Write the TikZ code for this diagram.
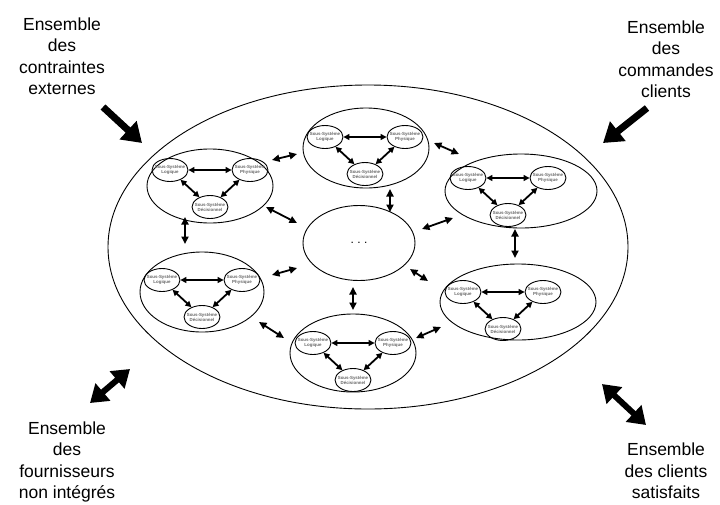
\documentclass[tikz,border=0pt]{standalone}
\usepackage{fontspec}
\setmainfont{Liberation Sans}
\usetikzlibrary{shapes.geometric,arrows.meta}

% one subsystem group: outer ellipse with the three sub-systems inside
% #1 name, #2 outer centre, #3 outer width, #4 outer height, #5 origin of the inner layout
\newcommand\sousgroupe[5]{%
  \node[grp, minimum width=#3, minimum height=#4] (#1) at (#2) {};
  \begin{scope}[shift={(#5)}]
    \node[ss] (#1L) at (-40,-12) {\makebox[0pt]{Sous-Système}\\\makebox[0pt]{Logique}};
    \node[ss] (#1P) at (40,-12) {\makebox[0pt]{Sous-Système}\\\makebox[0pt]{Physique}};
    \node[ss] (#1D) at (0,25) {\makebox[0pt]{Sous-Système}\\\makebox[0pt]{Décisionnel}};
  \end{scope}
  \draw[inarr] (#1L) -- (#1P);
  \draw[inarr] (#1L) -- (#1D);
  \draw[inarr] (#1P) -- (#1D);
}

\begin{document}
\begin{tikzpicture}[x=1pt, y=-1pt,
  grp/.style={ellipse, draw, line width=0.9pt, inner sep=0pt},
  ss/.style={ellipse, draw, line width=0.9pt, minimum width=36pt, minimum height=23pt,
    inner sep=0pt, align=center, font=\fontsize{4.4}{5}\selectfont\bfseries, text=black!60},
  inarr/.style={{Triangle[length=6pt,width=6pt]}-{Triangle[length=6pt,width=6pt]}, line width=1.8pt},
  link/.style={{Triangle[length=7.5pt,width=7pt]}-{Triangle[length=7.5pt,width=7pt]}, line width=1.8pt},
  bigarr/.style={-{Triangle[length=19pt,width=24pt]}, line width=7pt},
  bigdbl/.style={{Triangle[length=17pt,width=22pt]}-{Triangle[length=17pt,width=22pt]}, line width=6pt},
  lbl/.style={align=center, font=\fontsize{17.5}{21.5}\selectfont}]

\useasboundingbox[fill=white] (0,0) rectangle (720,504);

% the enterprise as a whole
\node[ellipse, draw, line width=0.9pt, minimum width=520pt, minimum height=324pt, inner sep=0pt] (sys) at (368,247) {};

% central group
\node[ellipse, draw, line width=0.9pt, minimum width=112pt, minimum height=75pt, inner sep=0pt,
  font=\fontsize{12}{12}\selectfont] (mid) at (359,243) {.\hspace{3.4pt}.\hspace{3.4pt}.};

% subsystem groups
\sousgroupe{g1}{210,186}{126pt}{74pt}{210,182}
\sousgroupe{g2}{366,148}{126pt}{80pt}{365,149}
\sousgroupe{g3}{521,191}{152pt}{74pt}{508,190}
\sousgroupe{g4}{202,292}{124pt}{80pt}{202,292}
\sousgroupe{g5}{518,302}{156pt}{76pt}{503,304}
\sousgroupe{g6}{353,353}{126pt}{78pt}{353,355}

% exchanges between groups
\coordinate (a1s) at (272,160); \coordinate (a1e) at (297,154);
\coordinate (a2s) at (434,143); \coordinate (a2e) at (459,154);
\coordinate (a3s) at (390,189); \coordinate (a3e) at (390,212);
\coordinate (a4s) at (266,207); \coordinate (a4e) at (297,223);
\coordinate (a5s) at (422,229); \coordinate (a5e) at (453,218);
\coordinate (a6s) at (272,275); \coordinate (a6e) at (297,268);
\coordinate (a7s) at (410,269); \coordinate (a7e) at (428,281);
\coordinate (a8s) at (353,287); \coordinate (a8e) at (353,310);
\coordinate (a9s) at (259,322); \coordinate (a9e) at (284,338);
\coordinate (a10s) at (416,338); \coordinate (a10e) at (441,327);
\coordinate (a11s) at (185,217); \coordinate (a11e) at (185,244);
\coordinate (a12s) at (515,229); \coordinate (a12e) at (515,258);
\foreach \k in {1,...,12} \draw[link] (a\k s) -- (a\k e);

% environment labels
\node[lbl] (tl) at (62,56) {Ensemble\\des\\contraintes\\externes};
\node[lbl] (tr) at (666,59) {Ensemble\\des\\commandes\\clients};
\node[lbl] (bl) at (67,462) {Ensemble\\des\\fournisseurs\\non intégrés};
\node[lbl] (br) at (666,471) {Ensemble\\des clients\\satisfaits};

% flows with the environment
\coordinate (ftl) at (103,107); \coordinate (ttl) at (142,143);
\coordinate (ftr) at (647,108); \coordinate (ttr) at (603,143);
\coordinate (fbl) at (130,369); \coordinate (tbl) at (90,403);
\coordinate (fbr) at (602,384); \coordinate (tbr) at (646,425);
\draw[bigarr] (ftl) -- (ttl);
\draw[bigarr] (ftr) -- (ttr);
\draw[bigdbl] (fbl) -- (tbl);
\draw[bigdbl] (fbr) -- (tbr);
\end{tikzpicture}
\end{document}
